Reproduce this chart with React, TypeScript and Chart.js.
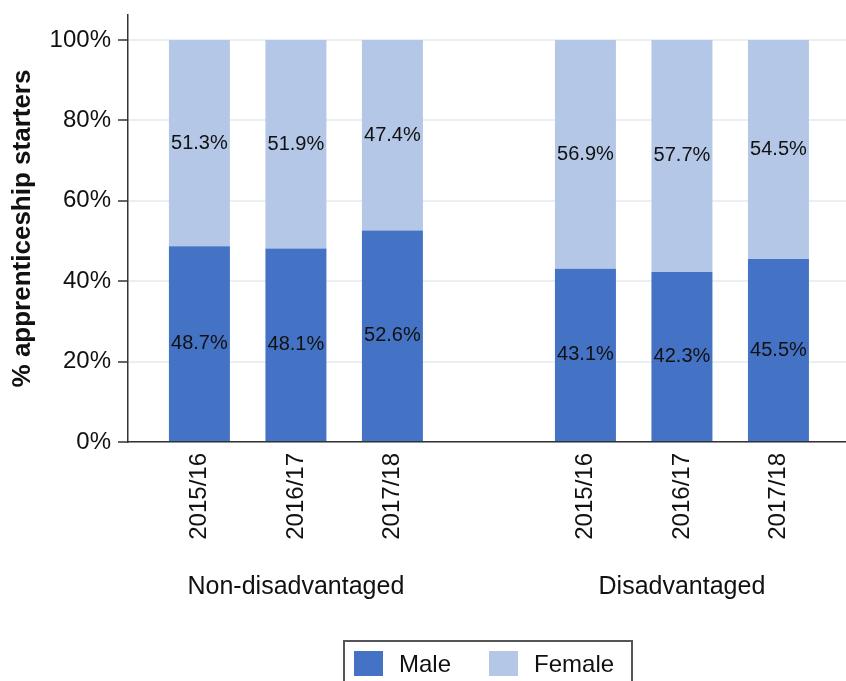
import React, { useEffect, useRef } from 'react';
import { Chart, registerables } from 'chart.js';

Chart.register(...registerables);

// ---- data ----
const categories = ['2015/16', '2016/17', '2017/18', '', '2015/16', '2016/17', '2017/18'];
const groupOfCategory = [0, 0, 0, -1, 1, 1, 1];
const groupNames = ['Non-disadvantaged', 'Disadvantaged'];
const maleValues: (number | null)[] = [48.7, 48.1, 52.6, null, 43.1, 42.3, 45.5];
const femaleValues: (number | null)[] = [51.3, 51.9, 47.4, null, 56.9, 57.7, 54.5];
const yTickValues = [0, 20, 40, 60, 80, 100];
const seriesNames = ['Male', 'Female'];
const seriesColors = ['#4472C4', '#B4C7E7'];
const yTitle = '% apprenticeship starters';

const FONT = "'Liberation Sans', Arial, Helvetica, sans-serif";
const W = 846;
const H = 681;

function toPoints(values: (number | null)[]) {
  return values.map((y, i) => ({ x: i, y })).filter((p) => p.y !== null);
}

export default function App() {
  const ref = useRef<HTMLCanvasElement | null>(null);

  useEffect(() => {
    if (!ref.current) return;
    Chart.defaults.font.family = FONT;
    Chart.defaults.color = '#111';

    const segLabels = {
      id: 'segLabels',
      afterDatasetsDraw(chart: any) {
        const ctx = chart.ctx;
        ctx.save();
        ctx.font = `20px ${FONT}`;
        ctx.fillStyle = '#111';
        ctx.textAlign = 'center';
        ctx.textBaseline = 'middle';
        chart.data.datasets.forEach((ds: any, di: number) => {
          const meta = chart.getDatasetMeta(di);
          meta.data.forEach((el: any, j: number) => {
            const v = ds.data[j].y as number;
            const p = el.getProps(['x', 'y', 'base'], true);
            ctx.fillText(v.toFixed(1) + '%', p.x, (p.y + p.base) / 2);
          });
        });
        ctx.restore();
      },
    };

    const groupLabels = {
      id: 'groupLabels',
      afterDraw(chart: any) {
        const ctx = chart.ctx;
        const xs = chart.scales.x;
        ctx.save();
        ctx.font = `25px ${FONT}`;
        ctx.fillStyle = '#111';
        ctx.textAlign = 'center';
        ctx.textBaseline = 'middle';
        groupNames.forEach((name, g) => {
          const idx = groupOfCategory.map((gg, i) => (gg === g ? i : -1)).filter((i) => i >= 0);
          const mid = idx.reduce((a, b) => a + b, 0) / idx.length;
          ctx.fillText(name, xs.getPixelForValue(mid), chart.chartArea.bottom + 145);
        });
        ctx.restore();
      },
    };

    const chart = new Chart(ref.current, {
      type: 'bar',
      data: {
        datasets: [
          {
            label: seriesNames[0],
            data: toPoints(maleValues) as any,
            backgroundColor: seriesColors[0],
            borderWidth: 0,
            barPercentage: 0.632,
            categoryPercentage: 1,
          },
          {
            label: seriesNames[1],
            data: toPoints(femaleValues) as any,
            backgroundColor: seriesColors[1],
            borderWidth: 0,
            barPercentage: 0.632,
            categoryPercentage: 1,
          },
        ],
      },
      options: {
        responsive: false,
        animation: false,
        layout: { padding: { top: 15, right: 0, left: 0, bottom: 0 } },
        plugins: {
          legend: { display: false },
          tooltip: { enabled: false },
        },
        scales: {
          x: {
            type: 'linear',
            stacked: true,
            offset: false,
            min: -0.74,
            max: 6.7,
            afterBuildTicks: (s: any) => {
              s.ticks = categories.map((_, i) => ({ value: i }));
            },
            afterFit: (s: any) => {
              s.height = H - 442;
              s.paddingLeft = 0;
              s.paddingRight = 0;
            },
            grid: { display: false, drawTicks: false, offset: false },
            border: { display: true, color: '#333', width: 1.5 },
            ticks: {
              autoSkip: false,
              minRotation: 90,
              maxRotation: 90,
              padding: 11,
              font: { size: 24 },
              color: '#111',
              callback: (v: any) => categories[v as number] ?? '',
            },
          },
          y: {
            stacked: true,
            min: 0,
            max: 106.2,
            afterBuildTicks: (s: any) => {
              s.ticks = yTickValues.map((v) => ({ value: v }));
            },
            afterFit: (s: any) => {
              s.width = 128;
              s.paddingTop = 0;
              s.paddingBottom = 0;
            },
            grid: {
              color: '#e9f0f4',
              lineWidth: 2,
              tickColor: '#333',
              tickLength: 10,
              tickWidth: 1.5,
            },
            border: { display: true, color: '#333', width: 1.5 },
            ticks: {
              padding: 7,
              font: { size: 24 },
              color: '#111',
              callback: (v: any) => v + '%',
            },
            title: {
              display: true,
              text: yTitle,
              font: { size: 26, weight: 'bold' },
              color: '#111',
              padding: { top: 7, bottom: 0 },
            },
          },
        },
      } as any,
      plugins: [segLabels, groupLabels],
    });
    return () => chart.destroy();
  }, []);

  return (
    <div
      style={{
        position: 'fixed',
        left: 0,
        top: 0,
        width: W,
        height: H,
        overflow: 'hidden',
        background: '#fff',
      }}
    >
      <canvas ref={ref} width={W} height={H} style={{ display: 'block', width: W, height: H }} />
      <div
        style={{
          position: 'absolute',
          left: 343,
          top: 640,
          width: 290,
          height: 60,
          boxSizing: 'border-box',
          border: '2px solid #555',
          display: 'flex',
          alignItems: 'flex-start',
          paddingLeft: 9,
          paddingTop: 9,
          fontFamily: FONT,
          fontSize: 24,
          color: '#111',
        }}
      >
        {seriesNames.map((n, i) => (
          <div key={n} style={{ display: 'flex', alignItems: 'center', marginRight: 38 }}>
            <span
              style={{
                width: 29,
                height: 25,
                background: seriesColors[i],
                display: 'inline-block',
                marginRight: 16,
              }}
            />
            <span style={{ lineHeight: '25px' }}>{n}</span>
          </div>
        ))}
      </div>
    </div>
  );
}
